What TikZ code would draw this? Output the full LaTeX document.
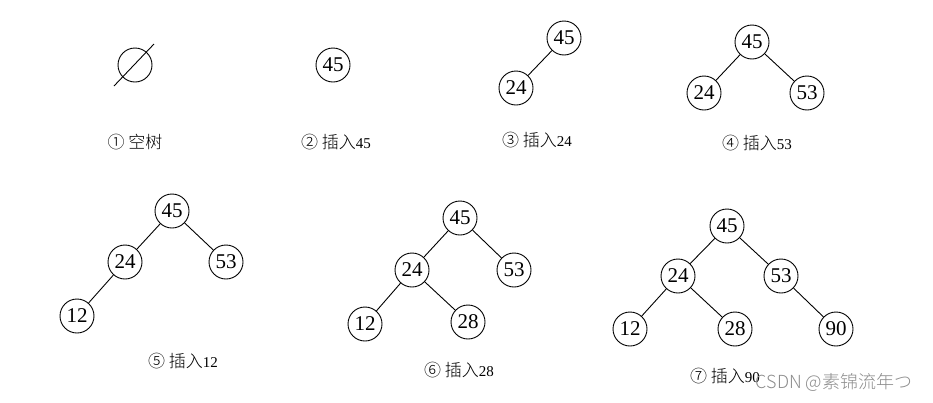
\documentclass[tikz,border=0pt]{standalone}
\usepackage{fontspec}
\setmainfont{Liberation Serif}
\newfontfamily\cjk{Noto Sans CJK SC Light}
\newfontfamily\cjkr{Noto Sans CJK SC}
\begin{document}
\begin{tikzpicture}[x=1pt,y=-1pt,
  tn/.style={circle,draw,line width=0.9pt,minimum size=34pt,inner sep=0pt,font=\fontsize{21}{21}\selectfont},
  edge/.style={line width=0.9pt},
  lbl/.style={font=\fontsize{17}{17}\selectfont\cjk,inner sep=0pt}]
\useasboundingbox (0,0) rectangle (933,402);
% 1
\node[circle,draw,line width=0.9pt,minimum size=34pt,inner sep=0pt] (e) at (135,65) {};
\coordinate (s1) at (114,86);
\coordinate (s2) at (154,44);
\draw[edge] (s1) -- (s2);
\node[lbl] (l1) at (135,142) {① 空树};
% 2
\node[tn] (b45) at (333,65) {45};
\node[lbl] (l2) at (336,142) {② 插入{\rmfamily\fontsize{15}{15}\selectfont 45}};
% 3
\node[tn] (c45) at (564,38) {45};
\node[tn] (c24) at (516,88) {24};
\draw[edge] (c45) -- (c24);
\node[lbl] (l3) at (537,140) {③ 插入{\rmfamily\fontsize{15}{15}\selectfont 24}};
% 4
\node[tn] (d45) at (752,42) {45};
\node[tn] (d24) at (704,93) {24};
\node[tn] (d53) at (807,93) {53};
\draw[edge] (d45) -- (d24);
\draw[edge] (d45) -- (d53);
\node[lbl] (l4) at (757,143) {④ 插入{\rmfamily\fontsize{15}{15}\selectfont 53}};
% 5
\node[tn] (f45) at (172,211) {45};
\node[tn] (f24) at (125,262) {24};
\node[tn] (f53) at (226,262) {53};
\node[tn] (f12) at (77,316) {12};
\draw[edge] (f45) -- (f24);
\draw[edge] (f45) -- (f53);
\draw[edge] (f24) -- (f12);
\node[lbl] (l5) at (183,361) {⑤ 插入{\rmfamily\fontsize{15}{15}\selectfont 12}};
% 6
\node[tn] (g45) at (460,218) {45};
\node[tn] (g24) at (412,270) {24};
\node[tn] (g53) at (514,270) {53};
\node[tn] (g12) at (365,324) {12};
\node[tn] (g28) at (468,322) {28};
\draw[edge] (g45) -- (g24);
\draw[edge] (g45) -- (g53);
\draw[edge] (g24) -- (g12);
\draw[edge] (g24) -- (g28);
\node[lbl] (l6) at (459,370) {⑥ 插入{\rmfamily\fontsize{15}{15}\selectfont 28}};
% 7
\node[tn] (h45) at (727,226) {45};
\node[tn] (h24) at (678,276) {24};
\node[tn] (h53) at (781,276) {53};
\node[tn] (h12) at (630,329) {12};
\node[tn] (h28) at (735,329) {28};
\node[tn] (h90) at (836,329) {90};
\draw[edge] (h45) -- (h24);
\draw[edge] (h45) -- (h53);
\draw[edge] (h24) -- (h12);
\draw[edge] (h24) -- (h28);
\draw[edge] (h53) -- (h90);
\node[lbl] (l7) at (725,376) {⑦ 插入{\rmfamily\fontsize{15}{15}\selectfont 90}};
\node[font=\fontsize{18}{18}\selectfont\cjk,text=black!45,inner sep=0pt] (wm) at (834,382) {CSDN @素锦流年つ};
\end{tikzpicture}
\end{document}
